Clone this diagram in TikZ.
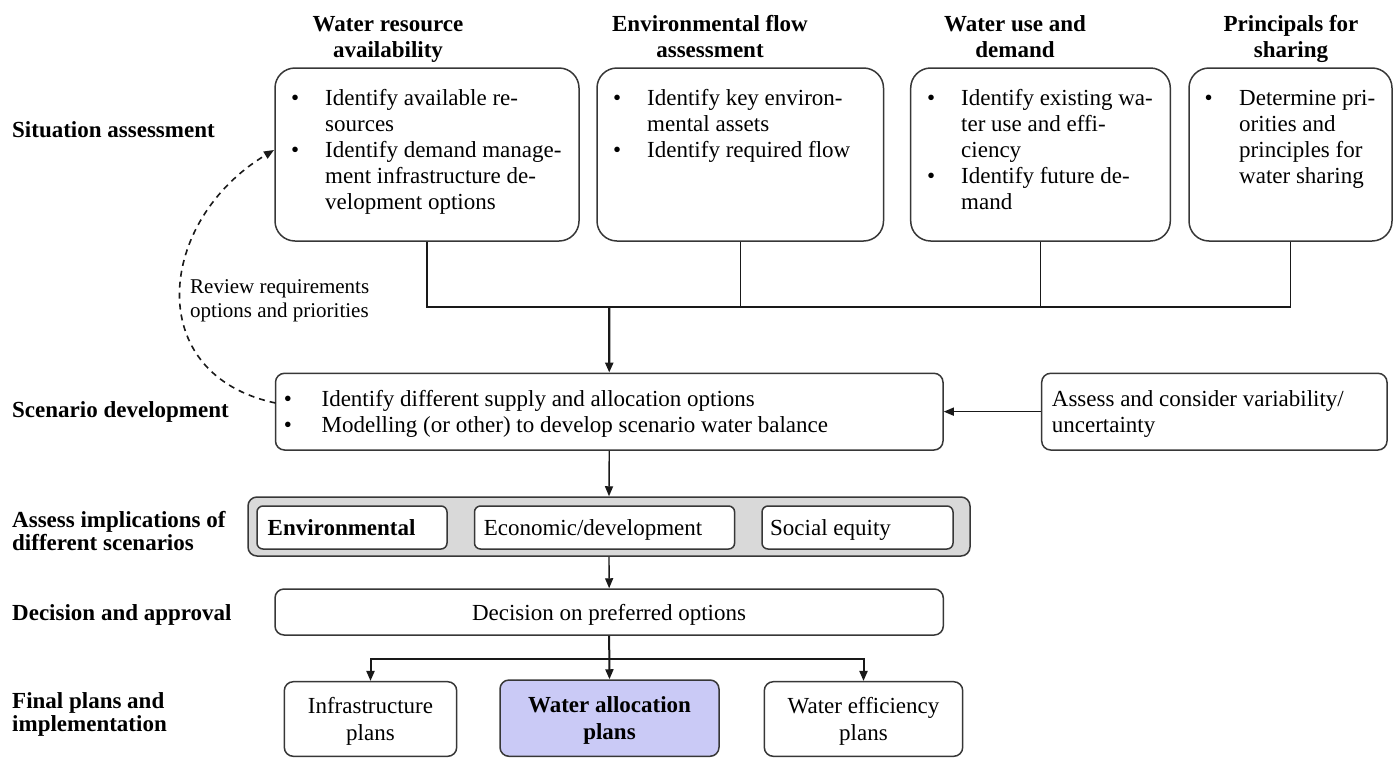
\documentclass[tikz,border=0pt]{standalone}
\usepackage{fontspec}
\setmainfont{Liberation Serif}
\usetikzlibrary{arrows.meta,fit}
\definecolor{bord}{RGB}{55,55,55}
\definecolor{grayfill}{RGB}{217,217,217}
\definecolor{lav}{RGB}{202,202,246}
\newcommand\mlines[2][l]{\begin{tabular}[t]{@{}#1@{}}#2\end{tabular}}
\tikzset{
  bx/.style={draw=bord, line width=1.5pt, inner sep=0pt},
  topbox/.style={bx, rounded corners=20pt},
  midbox/.style={bx, rounded corners=9pt},
  innerbox/.style={bx, fill=white, rounded corners=6pt},
  txt/.style={inner sep=0pt, font=\fontsize{23}{26}\selectfont},
  hdr/.style={inner sep=0pt, anchor=base, font=\bfseries\fontsize{23}{26}\selectfont},
  lbl/.style={inner sep=0pt, anchor=base west, font=\bfseries\fontsize{23}{23}\selectfont},
  conn/.style={draw=black!90, line width=1.4pt},
  tipstyle/.style={-{Triangle[length=10pt,width=8pt]}},
  arr/.style={conn, tipstyle},
}
\begin{document}
\begin{tikzpicture}[x=1pt,y=-1pt]
\useasboundingbox (0,0) rectangle (1394,758);

% headers
\node[hdr] (h1) at (388,31) {\mlines[c]{Water resource\\availability}};
\node[hdr] (h2) at (710,31) {\mlines[c]{Environmental flow\\assessment}};
\node[hdr] (h3) at (1015,31) {\mlines[c]{Water use and\\demand}};
\node[hdr] (h4) at (1291,31) {\mlines[c]{Principals for\\sharing}};

% left labels
\node[lbl] (l1) at (12,137) {Situation assessment};
\node[lbl] (l2) at (12,417) {Scenario development};
\node[lbl] (l3) at (12,527) {\mlines{Assess implications of\\different scenarios}};
\node[lbl] (l4) at (12,620) {Decision and approval};
\node[lbl] (l5) at (12,708) {\mlines{Final plans and\\implementation}};

% top boxes
\node[topbox, fit={(275,68) (579,241)}] (b1) {};
\node[topbox, fit={(597,68) (883.5,241)}] (b2) {};
\node[topbox, fit={(910.7,68) (1170.3,241)}] (b3) {};
\node[topbox, fit={(1189,68) (1392,241)}] (b4) {};

\node[txt, anchor=base west] (b1t) at (291,105) {\begin{tabular}[t]{@{}p{34pt}@{}l@{}}\textbullet & Identify available re-\\ & sources\\ \textbullet & Identify demand manage-\\ & ment infrastructure de-\\ & velopment options\end{tabular}};
\node[txt, anchor=base west] (b2t) at (613,105) {\begin{tabular}[t]{@{}p{34pt}@{}l@{}}\textbullet & Identify key environ-\\ & mental assets\\ \textbullet & Identify required flow\end{tabular}};
\node[txt, anchor=base west] (b3t) at (927,105) {\begin{tabular}[t]{@{}p{34pt}@{}l@{}}\textbullet & Identify existing wa-\\ & ter use and effi-\\ & ciency\\ \textbullet & Identify future de-\\ & mand\end{tabular}};
\node[txt, anchor=base west] (b4t) at (1204.5,105) {\begin{tabular}[t]{@{}p{34.5pt}@{}l@{}}\textbullet & Determine pri-\\ & orities and\\ & principles for\\ & water sharing\end{tabular}};

% scenario row
\node[midbox, fit={(275.5,373.3) (943,450)}] (scen) {};
\node[txt, anchor=base west] (scent) at (283.7,406) {\begin{tabular}[t]{@{}p{37.7pt}@{}l@{}}\textbullet & Identify different supply and allocation options\\ \textbullet & Modelling (or other) to develop scenario water balance\end{tabular}};
\node[midbox, fit={(1041.7,373.3) (1387,450)}] (var) {};
\node[txt, anchor=base west] (vart) at (1051.7,406) {\mlines{Assess and consider variability/\\uncertainty}};

% implications
\node[bx, fill=grayfill, rounded corners=9pt, fit={(248,497) (970,556)}] (impl) {};
\node[innerbox, fit={(257,506) (447,549)}] (env) {};
\node[innerbox, fit={(474.5,506) (734.6,549)}] (eco) {};
\node[innerbox, fit={(762,506) (953,549)}] (soc) {};
\node[txt, anchor=base west, font=\bfseries\fontsize{23}{26}\selectfont] (envt) at (267.5,535) {Environmental};
\node[txt, anchor=base west] (ecot) at (483.6,535) {Economic/development};
\node[txt, anchor=base west] (soct) at (770,535) {Social equity};

% decision
\node[midbox, fit={(275,589) (943.3,635)}] (dec) {};
\node[txt, anchor=base] (dect) at (609,620) {Decision on preferred options};

% final plans
\node[midbox, fit={(284.3,681.7) (456.7,756.3)}] (infra) {};
\node[midbox, fill=lav, fit={(500,680) (719,756.3)}] (alloc) {};
\node[midbox, fit={(764.3,681.7) (962.7,756.3)}] (eff) {};
\node[txt, anchor=base, font=\fontsize{23}{27}\selectfont] (infrat) at (370.5,713) {\mlines[c]{Infrastructure\\plans}};
\node[txt, anchor=base, font=\bfseries\fontsize{23}{27}\selectfont] (allocat) at (609.5,712) {\mlines[c]{Water allocation\\plans}};
\node[txt, anchor=base, font=\fontsize{23}{27}\selectfont] (efft) at (863.5,713) {\mlines[c]{Water efficiency\\plans}};

% review label
\node[inner sep=0pt, anchor=base west, font=\fontsize{21}{24}\selectfont] (rv) at (190,293) {\mlines{Review requirements\\options and priorities}};

% connectors from top boxes
\coordinate (jn) at (609.3,307);
\draw[conn] (b1.south) |- (jn);
\draw[conn] (b4.south) |- (jn);
\draw[conn] (b2.south) -- (b2.south |- jn);
\draw[conn] (b3.south) -- (b3.south |- jn);
\draw[arr, line width=2.3pt] (jn) -- (scen.north);

\draw[arr] (var.west) -- (scen.east);
\draw[arr] (scen.south) -- (impl.north);
\draw[arr] (impl.south) -- (dec.north);

\coordinate (br) at (609.3,659);
\draw[conn, line width=2pt] (dec.south) -- (br);
\draw[arr, line width=2pt] (br) -- (alloc.north);
\draw[arr, line width=2pt] (br) -| (infra.north);
\draw[arr, line width=2pt] (br) -| (eff.north);

% dashed feedback arc
\coordinate (arcS) at (275.5,403);
\coordinate (arcE) at (274,150);
\draw[conn, line width=1.6pt, dash pattern=on 6pt off 5pt, tipstyle] (arcS) .. controls +(-134,-28.5) and +(-117.4,70.6) .. (arcE);
\end{tikzpicture}
\end{document}
